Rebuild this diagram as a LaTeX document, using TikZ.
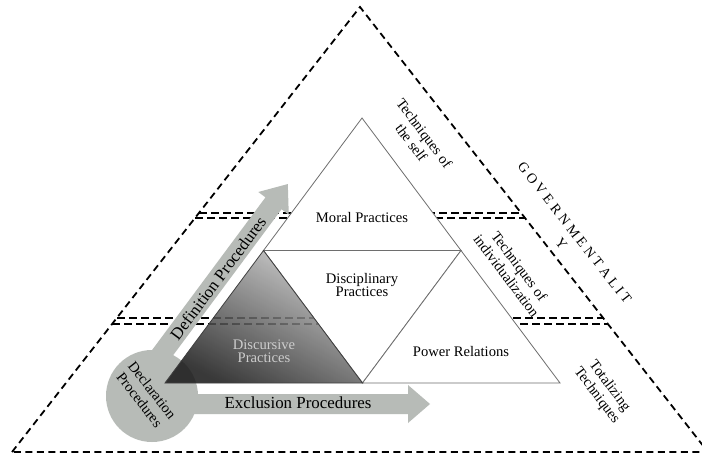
\documentclass[tikz,border=0pt]{standalone}
\usepackage{fontspec}
\setmainfont{Liberation Serif}
\usetikzlibrary{calc}
\definecolor{procgray}{RGB}{183,187,183}
\definecolor{edgegray}{RGB}{110,110,110}
\definecolor{disctext}{RGB}{205,205,205}

\begin{document}
\begin{tikzpicture}[x=1pt,y=-1pt,
  outer/.style={draw=black, line width=1.8pt, dash pattern=on 7pt off 4.5pt},
  band/.style={draw=black, line width=1.6pt, dash pattern=on 8pt off 4pt},
  part/.style={fill=white, draw=edgegray, line width=0.8pt},
  procarrow/.style={fill=procgray},
  lbl/.style={font=\fontsize{14.6}{13.5}\selectfont, align=center, inner sep=0pt},
  biglbl/.style={font=\fontsize{16.9}{18}\selectfont, inner sep=0pt},
  tech/.style={font=\fontsize{14.6}{16}\selectfont, align=center, inner sep=0pt, rotate=-53},
]
\useasboundingbox (0,0) rectangle (702,457);
\fill[white] (0,0) rectangle (702,457);

% outer governmentality triangle
\coordinate (Gtop) at (360,7);
\coordinate (Gleft) at (12,452);
\coordinate (Gright) at (708,452);
\draw[outer] (Gleft) -- (Gtop) -- (Gright) -- cycle;

% double dashed bands between the three levels
\coordinate (b1l) at (199,213); \coordinate (b1r) at (521,213);
\coordinate (b2l) at (195,218); \coordinate (b2r) at (525,218);
\coordinate (b3l) at (117,318); \coordinate (b3r) at (603,318);
\coordinate (b4l) at (112,324); \coordinate (b4r) at (608,324);
\draw[band] (b1l) -- (b1r);
\draw[band] (b2l) -- (b2r);
\draw[band] (b3l) -- (b3r);
\draw[band] (b4l) -- (b4r);

% procedure arrows leaving the declaration circle
\coordinate (exStart) at (154,404);
\coordinate (dfStart) at (148.9,371.1);
\fill[procarrow, shift={(exStart)}]
  (0,-10) -- (254,-10) -- (254,-19) -- (276,0) -- (254,19) -- (254,10) -- (0,10) -- cycle;
\begin{scope}[shift={(dfStart)}, rotate=53.4]
  \fill[procarrow] (0,-10) -- (209,-10) -- (209,-19) -- (233,0) -- (209,19) -- (209,10) -- (0,10) -- cycle;
\end{scope}
\node[circle, fill=procgray, minimum size=92pt, inner sep=0pt] (decl) at (152,396) {};

% inner triangle of practices
\coordinate (iA) at (165,383);
\coordinate (iB) at (560,383);
\coordinate (iC) at (362,118);
\coordinate (mAC) at ($(iA)!0.5!(iC)$);
\coordinate (mBC) at ($(iB)!0.5!(iC)$);
\coordinate (mAB) at ($(iA)!0.5!(iB)$);
\draw[part] (mAC) -- (iC) -- (mBC) -- cycle;
\draw[part] (mAC) -- (mBC) -- (mAB) -- cycle;
\draw[part] (mAB) -- (mBC) -- (iB) -- cycle;
\shade[top color=black!22, middle color=black!68, bottom color=black!90,
       shading angle=-28, opacity=0.86] (iA) -- (mAC) -- (mAB) -- cycle;
\draw[black!75, line width=0.8pt] (iA) -- (mAC) -- (mAB) -- cycle;

% labels
\node[lbl] (moral) at (362,218) {Moral Practices};
\node[lbl] (disc) at (362,285) {Disciplinary\\Practices};
\node[lbl, text=disctext] (discur) at (264,351) {Discursive\\Practices};
\node[lbl] (power) at (461,352) {Power Relations};
\node[biglbl] (excl) at (298,403) {Exclusion Procedures};
\node[biglbl, rotate=53.4] (defn) at (218,278) {Definition Procedures};
\node[tech, rotate=1] (declt) at (146,395) {Declaration\\Procedures};
\node[tech] (self) at (418,138) {Techniques of\\the self};
\node[tech] (indiv) at (513,271) {Techniques of\\individualization};
\node[tech] (total) at (603,391) {Totalizing\\Techniques};
\node[font=\fontsize{14}{17}\selectfont, align=center, inner sep=0pt, rotate=-52]
  (gov) at (568,238) {G O V E R N M E N T A L I T\\Y};
\end{tikzpicture}
\end{document}
